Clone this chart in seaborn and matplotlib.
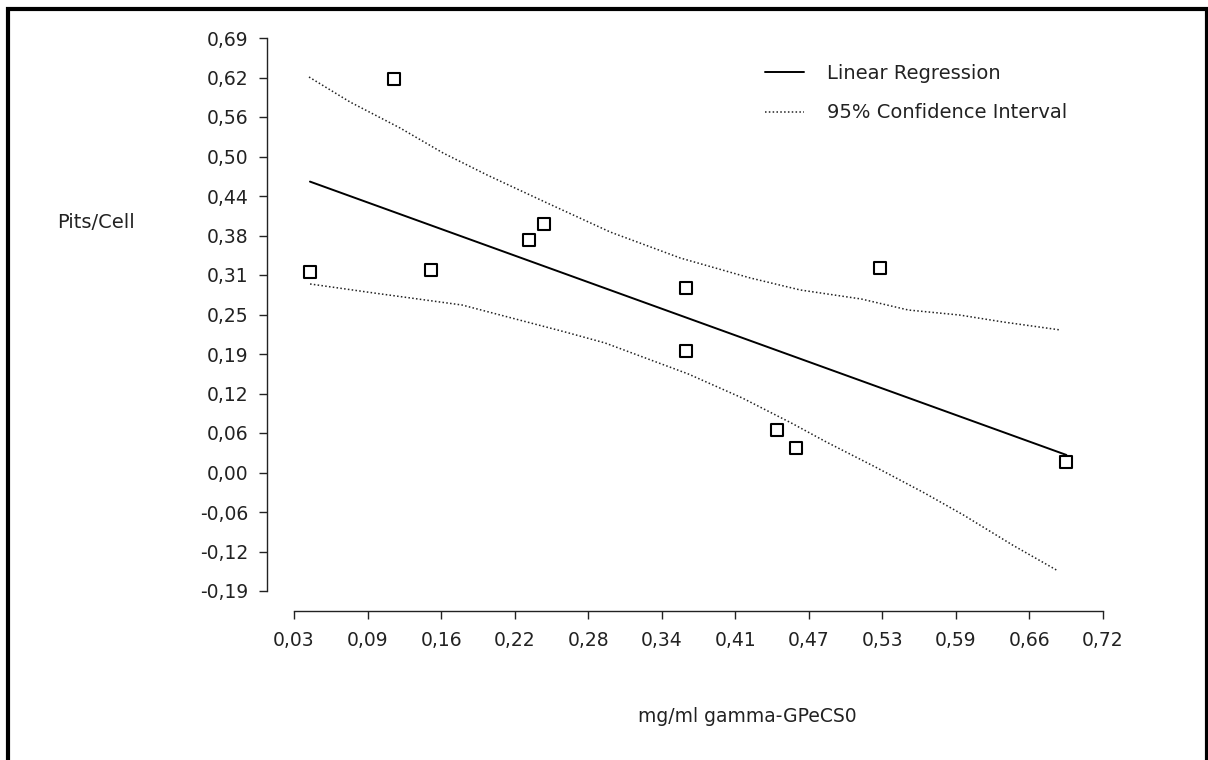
import numpy as np
import pandas as pd
import matplotlib
matplotlib.use("Agg")
import matplotlib.pyplot as plt
import seaborn as sns
from matplotlib.patches import Rectangle

sns.set_theme(style="white")
plt.rcParams["font.family"] = ["DejaVu Sans"]

# measured points
conc = [0.0448, 0.1161, 0.1480, 0.2306, 0.2441, 0.3645, 0.3645, 0.4417, 0.4578, 0.5290, 0.6876]
pits = [0.3180, 0.6227, 0.3210, 0.3685, 0.3937, 0.2926, 0.1915, 0.0668, 0.0383, 0.3240, 0.0162]

# 95% confidence band
upper_x = [0.0440, 0.0789, 0.1214, 0.1580, 0.1954, 0.2464, 0.3000, 0.3595,
           0.4190, 0.4615, 0.5134, 0.5533, 0.5967, 0.6341, 0.6826]
upper_y = [0.6258, 0.5862, 0.5451, 0.5055, 0.4707, 0.4264, 0.3805, 0.3394,
           0.3078, 0.2888, 0.2745, 0.2571, 0.2492, 0.2381, 0.2255]
lower_x = [0.0449, 0.0993, 0.1741, 0.2617, 0.2957, 0.3663, 0.4122, 0.4539,
           0.4836, 0.5253, 0.5670, 0.6001, 0.6418, 0.6792]
lower_y = [0.2983, 0.2840, 0.2650, 0.2223, 0.2049, 0.1559, 0.1179, 0.0783,
           0.0483, 0.0087, -0.0324, -0.0672, -0.1147, -0.1543]

x_ticks = [0.03125, 0.09375, 0.15625, 0.21875, 0.28125, 0.34375,
           0.40625, 0.46875, 0.53125, 0.59375, 0.65625, 0.71875]
x_labels = ["0,03", "0,09", "0,16", "0,22", "0,28", "0,34",
            "0,41", "0,47", "0,53", "0,59", "0,66", "0,72"]
y_ticks = [-0.1875, -0.125, -0.0625, 0.0, 0.0625, 0.125, 0.1875, 0.25,
           0.3125, 0.375, 0.4375, 0.5, 0.5625, 0.625, 0.6875]
y_labels = ["-0,19", "-0,12", "-0,06", "0,00", "0,06", "0,12", "0,19", "0,25",
            "0,31", "0,38", "0,44", "0,50", "0,56", "0,62", "0,69"]

df = pd.DataFrame({"conc": conc, "pits": pits})
upper = pd.DataFrame({"x": upper_x, "y": upper_y})
lower = pd.DataFrame({"x": lower_x, "y": lower_y})

W, H = 1208, 760
fig = plt.figure(figsize=(W / 100, H / 100), dpi=100)
ax = fig.add_axes([294 / W, 1 - 591 / H, (1103 - 294) / W, (591 - 38) / H])

dot = (0, (1, 1.5))
sns.lineplot(data=upper, x="x", y="y", ax=ax, color="#222222", lw=1.1,
             linestyle=dot, label="95% Confidence Interval", sort=False)
sns.lineplot(data=lower, x="x", y="y", ax=ax, color="#222222", lw=1.1,
             linestyle=dot, sort=False)
sns.regplot(data=df, x="conc", y="pits", ax=ax, scatter=False, ci=None,
            color="black", label="Linear Regression", line_kws={"lw": 1.4})
sns.scatterplot(data=df, x="conc", y="pits", ax=ax, marker="s", s=70,
                color="white", edgecolor="black", linewidth=1.5,
                zorder=5, clip_on=False, legend=False)

ax.set_xlim(x_ticks[0], x_ticks[-1])
ax.set_ylim(y_ticks[0], y_ticks[-1])
ax.set_xticks(x_ticks, x_labels)
ax.set_yticks(y_ticks, y_labels)
ax.set_xlabel("")
ax.set_ylabel("")

for side in ["top", "right"]:
    ax.spines[side].set_visible(False)
ax.spines["left"].set_position(("outward", 19.4))
ax.spines["bottom"].set_position(("outward", 14.4))
ax.spines["left"].set_bounds(y_ticks[0], y_ticks[-1])
ax.spines["bottom"].set_bounds(x_ticks[0], x_ticks[-1])
for side in ["left", "bottom"]:
    ax.spines[side].set_color("#222222")
    ax.spines[side].set_linewidth(1.0)
ax.tick_params(axis="both", direction="out", length=5.8, width=1.0,
               color="#222222", labelsize=13.5, labelcolor="#222222")
ax.tick_params(axis="y", pad=7.5, left=True)
ax.tick_params(axis="x", pad=8.5, bottom=True)

handles, labels = ax.get_legend_handles_labels()
order = [labels.index("Linear Regression"), labels.index("95% Confidence Interval")]
leg = ax.legend([handles[i] for i in order], [labels[i] for i in order],
                loc="upper left", bbox_to_anchor=(765 / W, 1 - 64 / H),
                bbox_transform=fig.transFigure, frameon=False, fontsize=14,
                borderpad=0, borderaxespad=0, handlelength=2.0,
                handletextpad=1.2, labelspacing=1.05)
for t in leg.get_texts():
    t.set_color("#222222")

fig.text(57 / W, 1 - 222 / H, "Pits/Cell", fontsize=14, color="#222222",
         ha="left", va="center")
fig.text(638 / W, 1 - 717 / H, "mg/ml gamma-GPeCS0", fontsize=13.5,
         color="#222222", ha="left", va="center")

fig.add_artist(Rectangle((8 / W, -0.05), (1207 - 8) / W, 1 - 9 / H + 0.05,
                         transform=fig.transFigure, fill=False,
                         edgecolor="black", lw=3.0, clip_on=False))

fig.savefig("out.png", dpi=100, facecolor="white")
